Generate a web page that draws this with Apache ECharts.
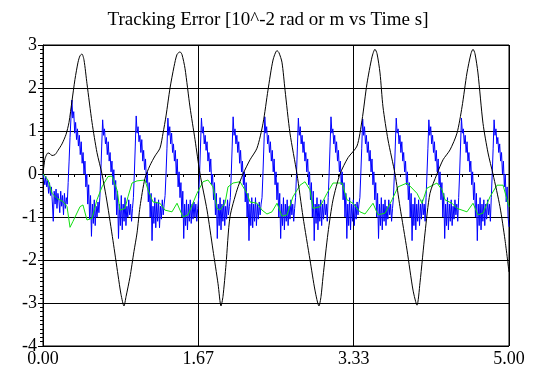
<!DOCTYPE html>
<html>
<head>
<meta charset="utf-8">
<script src="https://cdn.jsdelivr.net/npm/echarts@6/dist/echarts.min.js"></script>
<style>
  html, body { margin: 0; padding: 0; background: #fff; }
  #chart { width: 536px; height: 376px; }
</style>
</head>
<body>
<div id="chart"></div>
<script>
// Tracking error traces, units of 10^-2 rad (or m), time in seconds.

const titleText = 'Tracking Error [10^-2 rad or m vs Time s]';
const xTickLabels = ['0.00', '1.67', '3.33', '5.00'];
const yTickLabels = ['-4', '-3', '-2', '-1', '0', '1', '2', '3'];

// Black trace: sample times (s) and errors
const blackTimes = [
  0.000, 0.021, 0.054, 0.075, 0.097, 0.129, 0.161, 0.204, 0.247, 0.279,
  0.311, 0.343, 0.376, 0.397, 0.418, 0.440, 0.472, 0.526, 0.579, 0.633,
  0.687, 0.751, 0.805, 0.837, 0.869, 0.891, 0.933, 0.976, 1.009, 1.041,
  1.094, 1.148, 1.202, 1.255, 1.288, 1.320, 1.363, 1.406, 1.438, 1.470,
  1.491, 1.524, 1.577, 1.631, 1.685, 1.760, 1.824, 1.878, 1.910, 1.931,
  1.964, 2.006, 2.082, 2.146, 2.221, 2.296, 2.361, 2.414, 2.468, 2.511,
  2.532, 2.564, 2.597, 2.650, 2.725, 2.790, 2.865, 2.918, 2.961, 2.983,
  3.004, 3.058, 3.112, 3.187, 3.273, 3.369, 3.423, 3.476, 3.530, 3.562,
  3.584, 3.616, 3.648, 3.702, 3.777, 3.830, 3.906, 3.970, 4.013, 4.045,
  4.099, 4.152, 4.227, 4.292, 4.367, 4.442, 4.496, 4.549, 4.592, 4.614,
  4.635, 4.667, 4.721, 4.775, 4.828, 4.903, 4.957, 5.000
];
const blackValues = [
  0, 0.35, 0.49, 0.47, 0.43, 0.45, 0.55, 0.7, 0.92, 1.2,
  1.7, 2.2, 2.6, 2.75, 2.79, 2.65, 2.1, 1.2, 0.5, 0,
  -0.65, -1.55, -2.35, -2.8, -3.07, -2.85, -2.4, -1.8, -1.37, -0.76,
  -0.1, 0.2, 0.42, 0.6, 0.95, 1.35, 2.0, 2.5, 2.78, 2.84,
  2.78, 2.45, 1.56, 0.8, 0, -0.84, -1.77, -2.55, -3.07, -2.85,
  -2.1, -1.0, -0.37, 0, 0.33, 0.6, 1.18, 1.95, 2.65, 2.87,
  2.82, 2.6, 1.95, 0.95, 0, -1.0, -2.0, -2.7, -3.07, -2.85,
  -2.4, -1.37, -0.6, 0, 0.38, 0.65, 1.25, 2.1, 2.72, 2.9,
  2.8, 2.35, 1.56, 0.79, 0, -0.76, -1.77, -2.7, -3.05, -2.53,
  -1.37, -0.45, 0, 0.33, 0.56, 0.95, 1.56, 2.35, 2.8, 2.9,
  2.8, 2.35, 1.18, 0.49, 0, -0.76, -1.53, -2.28
];

// Green trace: sample times (s) and errors
const greenTimes = [
  0.000, 0.054, 0.097, 0.150, 0.215, 0.258, 0.290, 0.322, 0.397, 0.429,
  0.472, 0.526, 0.579, 0.633, 0.697, 0.740, 0.794, 0.826, 0.880, 0.912,
  0.955, 1.009, 1.094, 1.127, 1.180, 1.255, 1.309, 1.384, 1.438, 1.502,
  1.556, 1.652, 1.717, 1.770, 1.824, 1.867, 1.899, 1.953, 1.985, 2.039,
  2.114, 2.189, 2.221, 2.296, 2.350, 2.403, 2.457, 2.511, 2.564, 2.618,
  2.682, 2.758, 2.811, 2.865, 2.897, 2.972, 3.047, 3.112, 3.208, 3.262,
  3.326, 3.401, 3.455, 3.541, 3.594, 3.670, 3.745, 3.809, 3.906, 4.013,
  4.067, 4.120, 4.227, 4.281, 4.313, 4.388, 4.442, 4.549, 4.614, 4.667,
  4.721, 4.796, 4.871, 4.936, 5.000
];
const greenValues = [
  0.00, -0.14, -0.45, -0.57, -0.64, -0.76, -1.24, -1.10, -0.76, -0.72,
  -1.07, -1.03, -0.60, -0.30, -0.06, -0.05, -0.37, -0.84, -0.80, -0.53,
  -0.21, -0.16, -0.14, -0.37, -0.65, -0.68, -0.84, -0.88, -0.68, -1.00,
  -0.95, -0.45, -0.18, -0.14, -0.30, -0.80, -0.84, -0.68, -0.30, -0.21,
  -0.18, -0.45, -0.65, -0.68, -0.84, -0.93, -0.88, -0.68, -0.98, -0.95,
  -0.53, -0.26, -0.18, -0.37, -0.80, -0.76, -0.45, -0.21, -0.21, -0.60,
  -0.68, -0.88, -0.93, -0.68, -0.95, -0.91, -0.60, -0.30, -0.21, -0.45,
  -0.68, -0.33, -0.21, -0.37, -0.60, -0.68, -0.80, -0.88, -0.68, -0.95,
  -0.91, -0.53, -0.26, -0.26, -0.76
];

// Blue trace: one sample every 0.01 s from 0 to 5 s
const blueStep = 0.01;
const blueValues = [
  0, -0.1, -0.25, -0.05, -0.3, -0.15, -0.45, -0.2, -0.5, -0.3,
  -0.65, -1.1, -0.4, -0.7, -0.35, -0.8, -0.45, -0.6, -0.9, -0.4,
  -0.75, -0.5, -0.95, -0.45, -0.8, -0.55, -0.7, -0.2, 0.3, 0.85,
  1.3, 1.72,
  1.3, 1.45, 0.95, 1.2, 0.8, 1.05, 0.65, 0.9, 0.45, 0.75,
  0.25, 0.5, 0.0, 0.3, -0.3, 0.0, -0.7, -0.25, -1.05, -0.5,
  -1.45, -0.7, -1.15, -0.6, -1.2, -0.75, -1.0, -0.65, -0.9, -0.55,
  0.0, 0.65, 1.26,
  0.9, 1.05, 0.7, 0.85, 0.45, 0.75, 0.3, 0.5, 0.05, 0.3,
  -0.25, 0.1, -0.6, -0.15, -0.95, -0.4, -1.5, -0.7, -1.2, -0.5,
  -1.3, -0.7, -1.1, -0.55, -1.2, -0.75, -1.0, -0.6, -0.95, -0.7,
  -1.1, -0.8, -0.55, 0.0, 0.65, 1.35,
  0.95, 1.1, 0.75, 0.9, 0.5, 0.8, 0.3, 0.55, 0.1, 0.35,
  -0.2, 0.05, -0.65, -0.2, -1.0, -0.45, -1.55, -0.75, -1.15, -0.55,
  -1.25, -0.65, -1.1, -0.6, -1.25, -0.75, -1.05, -0.6, -0.95, -0.7,
  -0.5, 0.0, 0.6, 1.3,
  0.9, 1.1, 0.7, 0.95, 0.5, 0.7, 0.3, 0.55, 0.0, 0.35,
  -0.3, 0.05, -0.55, -0.2, -1.0, -0.4, -1.5, -0.7, -1.2, -0.6,
  -1.3, -0.7, -1.1, -0.6, -1.15, -0.7, -1.05, -0.65, -1.0, -0.7,
  -1.1, -0.8, -0.55, 0.0, 0.65, 1.3,
  0.95, 1.1, 0.7, 0.9, 0.55, 0.75, 0.3, 0.5, 0.05, 0.35,
  -0.25, 0.0, -0.6, -0.2, -0.95, -0.45, -1.5, -0.7, -1.2, -0.55,
  -1.3, -0.7, -1.1, -0.6, -1.2, -0.75, -1.05, -0.6, -0.95, -0.75,
  -0.55, 0.0, 0.65, 1.33,
  0.9, 1.05, 0.7, 0.9, 0.5, 0.75, 0.25, 0.55, 0.05, 0.3,
  -0.25, 0.05, -0.65, -0.2, -1.0, -0.45, -1.55, -0.7, -1.2, -0.55,
  -1.25, -0.7, -1.1, -0.55, -1.2, -0.7, -1.05, -0.65, -0.95, -0.7,
  -0.55, 0.0, 0.65, 1.33,
  0.95, 1.1, 0.7, 0.9, 0.5, 0.75, 0.3, 0.55, 0.05, 0.35,
  -0.25, 0.05, -0.6, -0.2, -1.0, -0.45, -1.5, -0.7, -1.2, -0.55,
  -1.3, -0.7, -1.1, -0.6, -1.2, -0.75, -1.05, -0.6, -0.95, -0.7,
  -1.1, -0.8, -0.55, 0.0, 0.65, 1.3,
  0.9, 1.1, 0.7, 0.9, 0.5, 0.75, 0.3, 0.5, 0.05, 0.35,
  -0.25, 0.05, -0.6, -0.2, -1.0, -0.4, -1.55, -0.7, -1.15, -0.55,
  -1.3, -0.7, -1.1, -0.6, -1.2, -0.7, -1.05, -0.6, -0.95, -0.7,
  -1.1, -0.55, 0.0, 0.65, 1.33,
  0.95, 1.05, 0.7, 0.9, 0.5, 0.75, 0.3, 0.55, 0.05, 0.3,
  -0.25, 0.05, -0.6, -0.2, -1.0, -0.45, -1.5, -0.7, -1.2, -0.55,
  -1.3, -0.7, -1.1, -0.6, -1.2, -0.7, -1.05, -0.65, -0.95, -0.7,
  -0.55, 0.0, 0.6, 1.28,
  0.9, 1.1, 0.7, 0.9, 0.5, 0.75, 0.3, 0.55, 0.05, 0.35,
  -0.25, 0.05, -0.6, -0.2, -1.0, -0.45, -1.5, -0.7, -1.2, -0.55,
  -1.3, -0.7, -1.1, -0.6, -1.2, -0.75, -1.05, -0.6, -0.95, -0.7,
  -1.1, -0.8, -0.55, 0.0, 0.65, 1.3,
  0.95, 1.05, 0.7, 0.9, 0.5, 0.75, 0.3, 0.5, 0.05, 0.3,
  -0.25, 0.05, -0.6, -0.2, -1.0, -0.45, -1.55, -0.7, -1.2, -0.55,
  -1.3, -0.7, -1.1, -0.6, -1.2, -0.7, -1.05, -0.6, -0.95, -0.7,
  -1.1, -0.55, 0.0, 0.6, 1.26,
  0.9, 1.1, 0.7, 0.9, 0.5, 0.75, 0.3, 0.55, 0.05, 0.35,
  -0.25, 0.05, -0.6, -0.2, -1.0, -0.45, -1.5, -0.7, -1.2, -0.55,
  -1.3, -0.7, -1.1, -0.6, -1.2, -0.75, -1.05, -0.6, -0.95, -0.7,
  -1.1, -0.55, 0.0, 0.65, 1.3,
  0.95, 1.05, 0.7, 0.9, 0.5, 0.75, 0.3, 0.5, 0.05, 0.3,
  -0.25, 0.05, -0.6, -0.2, -1.0, -0.45, -1.55, -0.7, -1.2, -0.55,
  -1.3, -0.7, -1.1, -0.6, -1.2, -0.7, -1.05, -0.6, -0.95, -0.7,
  -1.1, -0.55, 0.0, 0.6, 1.26,
  0.9, 1.05, 0.7, 0.85, 0.5, 0.7, 0.3, 0.5, 0.0, 0.3,
  -0.3, 0.0, -0.65, -0.3, -1.0, -1.23
];

function pairs(times, values) {
  return values.map((v, i) => [times[i], v]);
}
const blueData = blueValues.map((v, i) => [+(i * blueStep).toFixed(2), v]);

const serif = '"Liberation Serif", "DejaVu Serif", serif';
const chart = echarts.init(document.getElementById('chart'), null, { renderer: 'canvas' });

chart.setOption({
  animation: false,
  backgroundColor: '#ffffff',
  title: {
    text: titleText,
    left: 'center',
    top: 6,
    textStyle: { fontFamily: serif, fontSize: 19, fontWeight: 'normal', color: '#000' }
  },
  grid: {
    left: 43, right: 27, top: 45, bottom: 30,
    show: true, borderColor: '#000', borderWidth: 1, backgroundColor: 'transparent'
  },
  xAxis: {
    type: 'value',
    min: 0, max: 5, interval: 5 / 3,
    axisLine: { show: true, lineStyle: { color: '#000', width: 1 } },
    axisTick: { show: true, length: 6, lineStyle: { color: '#000' } },
    minorTick: { show: true, splitNumber: 10, length: 3, lineStyle: { color: '#000' } },
    splitLine: { show: true, lineStyle: { color: '#000', width: 1 } },
    axisLabel: {
      margin: 4, color: '#000', fontFamily: serif, fontSize: 18,
      showMinLabel: true, showMaxLabel: true,
      formatter: (v) => xTickLabels[Math.round(v / (5 / 3))]
    }
  },
  yAxis: {
    type: 'value',
    min: -4, max: 3, interval: 1,
    axisLine: { show: true, lineStyle: { color: '#000', width: 1 } },
    axisTick: { show: true, length: 5, lineStyle: { color: '#000' } },
    minorTick: { show: true, splitNumber: 10, length: 3, lineStyle: { color: '#000' } },
    splitLine: { show: true, lineStyle: { color: '#000', width: 1 } },
    axisLabel: {
      margin: 6, color: '#000', fontFamily: serif, fontSize: 18,
      formatter: (v) => yTickLabels[Math.round(v) + 4]
    }
  },
  series: [
    {
      name: 'blue', type: 'line', data: blueData, symbol: 'none',
      lineStyle: { color: '#0000ff', width: 1 }, z: 2
    },
    {
      name: 'green', type: 'line', data: pairs(greenTimes, greenValues), symbol: 'none',
      lineStyle: { color: '#10e010', width: 1 }, z: 3
    },
    {
      name: 'black', type: 'line', data: pairs(blackTimes, blackValues), symbol: 'none',
      smooth: 0.25,
      lineStyle: { color: '#000000', width: 1 }, z: 4
    }
  ]
});
</script>
</body>
</html>
